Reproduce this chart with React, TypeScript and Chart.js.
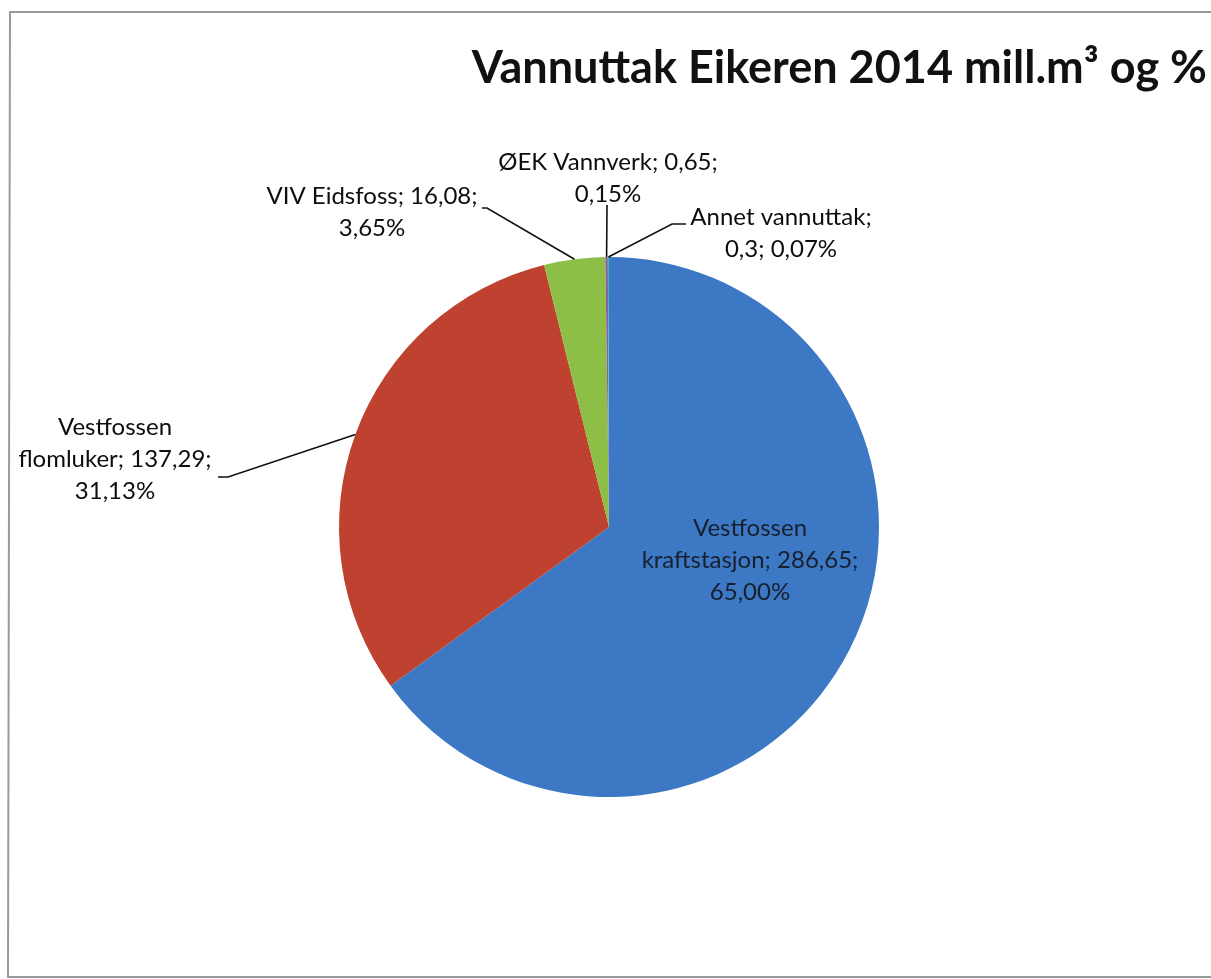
import React, { useEffect, useRef } from "react";
import { Chart, registerables } from "chart.js";
Chart.register(...registerables);

const TITLE = "Vannuttak Eikeren 2014 mill.m³ og %";
const categories = ["Vestfossen kraftstasjon", "Vestfossen flomluker", "VIV Eidsfoss", "ØEK Vannverk", "Annet vannuttak"];
const values = [286.65, 137.29, 16.08, 0.65, 0.3];
const valueTexts = ["286,65", "137,29", "16,08", "0,65", "0,3"];
const percentTexts = ["65,00%", "31,13%", "3,65%", "0,15%", "0,07%"];
const colors = ["#3c78c4", "#bf412f", "#8dbf47", "#8064a2", "#4bacc6"];

// label line breaks (how the original wraps each label)
const labelLines: string[][] = [
  ["Vestfossen", `kraftstasjon; ${valueTexts[0]};`, percentTexts[0]],
  ["Vestfossen", `flomluker; ${valueTexts[1]};`, percentTexts[1]],
  [`VIV Eidsfoss; ${valueTexts[2]};`, percentTexts[2]],
  [`ØEK Vannverk; ${valueTexts[3]};`, percentTexts[3]],
  [`Annet vannuttak;`, `${valueTexts[4]}; ${percentTexts[4]}`],
];

// label placement relative to pie centre (px): text block centre of first line, elbow, leader end
const labelPos = [
  { tx: 141, ty: 1, inside: true },
  { tx: -494, ty: -100, elbow: [-381, -50], end: [-391, -50] },
  { tx: -237, ty: -331, elbow: [-122, -319], end: [-127, -319] },
  { tx: -1, ty: -365, elbow: [-2, -322], end: [-2, -322] },
  { tx: 172, ty: -310, elbow: [63, -303], end: [77, -303] },
];

const FONT = "Lato, 'Open Sans', sans-serif";

const textPlugin = {
  id: "textPlugin",
  afterDraw(chart: any) {
    const ctx = chart.ctx as CanvasRenderingContext2D;
    const W = chart.width, H = chart.height;
    ctx.save();
    // frame
    ctx.strokeStyle = "#9a9a9a";
    ctx.lineWidth = 2;
    ctx.beginPath();
    ctx.moveTo(W, 12);
    ctx.lineTo(10, 12);
    ctx.lineTo(8, H - 2);
    ctx.lineTo(W, H - 2);
    ctx.stroke();

    // title
    ctx.fillStyle = "#111";
    ctx.font = `bold 45px ${FONT}`;
    ctx.textAlign = "right";
    ctx.textBaseline = "alphabetic";
    ctx.fillText(TITLE, 1207, 83);

    const meta = chart.getDatasetMeta(0);
    ctx.font = `24px ${FONT}`;
    ctx.textAlign = "center";
    ctx.textBaseline = "middle";
    const lh = 32;
    meta.data.forEach((arc: any, i: number) => {
      const p = labelPos[i];
      const cx = arc.x, cy = arc.y, r = arc.outerRadius;
      const mid = (arc.startAngle + arc.endAngle) / 2;
      const ex = cx + r * Math.cos(mid), ey = cy + r * Math.sin(mid);
      if (!p.inside && p.elbow) {
        ctx.strokeStyle = "#111";
        ctx.lineWidth = 1.6;
        ctx.beginPath();
        ctx.moveTo(ex, ey);
        ctx.lineTo(cx + p.elbow[0], cy + p.elbow[1]);
        ctx.lineTo(cx + p.end[0], cy + p.end[1]);
        ctx.stroke();
      }
      ctx.fillStyle = p.inside ? "#16202e" : "#0d0d0d";
      labelLines[i].forEach((t, k) => {
        ctx.fillText(t, cx + p.tx, cy + p.ty + k * lh);
      });
    });
    ctx.restore();
  },
};

export default function App() {
  const ref = useRef<HTMLCanvasElement>(null);
  useEffect(() => {
    document.body.style.margin = "0";
    const canvas = ref.current!;
    const chart = new Chart(canvas, {
      type: "pie",
      data: {
        labels: categories,
        datasets: [
          {
            data: values,
            backgroundColor: colors,
            borderWidth: 0,
          },
        ],
      },
      options: {
        responsive: false,
        animation: false,
        layout: { padding: { left: 339, right: 332, top: 257, bottom: 182 } },
        plugins: {
          legend: { display: false },
          title: { display: false },
          tooltip: { enabled: false },
        },
      },
      plugins: [textPlugin],
    });
    return () => chart.destroy();
  }, []);
  return (
    <div style={{ width: 1211, height: 979, background: "#fff" }}>
      <canvas ref={ref} width={1211} height={979} style={{ display: "block" }} />
    </div>
  );
}
